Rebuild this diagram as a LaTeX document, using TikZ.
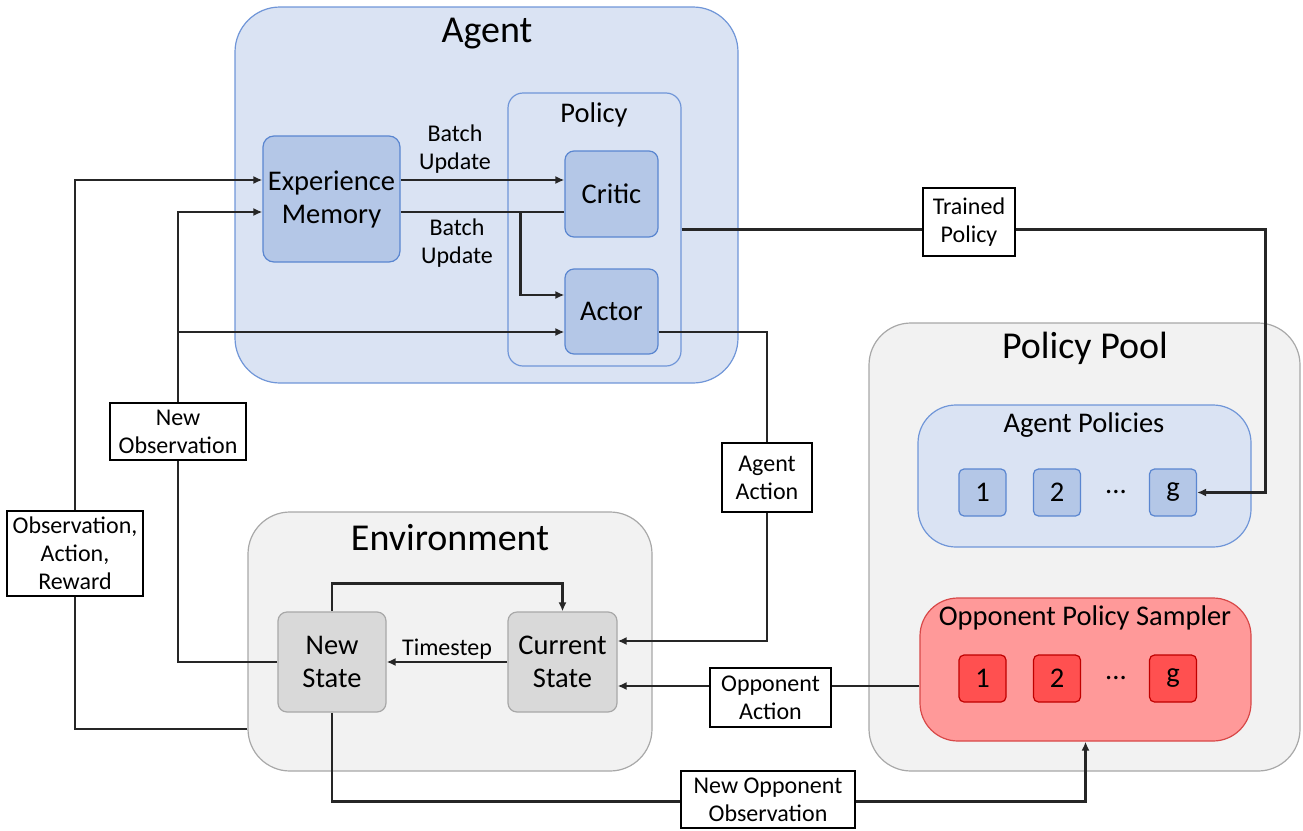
\documentclass[tikz,border=0pt]{standalone}
\usepackage{fontspec}
\setmainfont{Carlito}
\usetikzlibrary{arrows.meta,calc}
\definecolor{blueFill}{HTML}{DAE3F3}
\definecolor{blueLine}{HTML}{7096D8}
\definecolor{blueBox}{HTML}{B4C7E7}
\definecolor{blueBoxLine}{HTML}{5A86D0}
\definecolor{greyFill}{HTML}{F2F2F2}
\definecolor{greyLine}{HTML}{A8A8A8}
\definecolor{greyBox}{HTML}{D9D9D9}
\definecolor{redFill}{HTML}{FF9999}
\definecolor{redLine}{HTML}{D84848}
\definecolor{redBox}{HTML}{FF5050}
\definecolor{redBoxLine}{HTML}{C00000}
\pgfdeclarelayer{containers}
\pgfdeclarelayer{wires}
\pgfsetlayers{containers,wires,main}
\newcommand{\titlefont}{\fontsize{38}{40}\selectfont}
\newcommand{\midfont}{\fontsize{28.5}{33}\selectfont}
\newcommand{\smallfont}{\fontsize{24}{28}\selectfont}
\tikzset{
  frame/.style={draw, line width=1.2pt, inner sep=0pt},
  bluegroup/.style={frame, fill=blueFill, draw=blueLine},
  greygroup/.style={frame, fill=greyFill, draw=greyLine},
  bluebox/.style={frame, fill=blueBox, draw=blueBoxLine, rounded corners=11pt, align=center, font=\midfont},
  greybox/.style={frame, fill=greyBox, draw=greyLine, rounded corners=11pt, align=center, font=\midfont},
  poolblue/.style={frame, fill=blueBox, draw=blueBoxLine, rounded corners=5pt, minimum width=47pt, minimum height=47pt, font=\midfont},
  poolred/.style={frame, fill=redBox, draw=redBoxLine, rounded corners=5pt, minimum width=47pt, minimum height=47pt, font=\midfont},
  tag/.style={draw, fill=white, line width=1.3pt, align=center, font=\smallfont, inner sep=0pt},
  grouptitle/.style={font=\titlefont, inner sep=0pt},
  subtitle/.style={font=\midfont, inner sep=0pt},
  wire/.style={line width=2.4pt, draw=black!85},
  arr/.style={wire, -{Latex[length=9pt,width=8pt]}},
}
\begin{document}
\begin{tikzpicture}[x=1pt,y=-1pt]
\useasboundingbox (0,0) rectangle (1303,830);

% ---------- group containers ----------
\begin{pgfonlayer}{containers}
\node[bluegroup, rounded corners=45pt, minimum width=503pt, minimum height=376pt] (agent) at (486.5,195) {};
\node[bluegroup, rounded corners=15pt, minimum width=173pt, minimum height=273pt] (policy) at (594.5,229.5) {};
\node[greygroup, rounded corners=42pt, minimum width=404pt, minimum height=259pt] (env) at (450,641.5) {};
\node[greygroup, rounded corners=42pt, minimum width=431pt, minimum height=448pt] (pool) at (1084.5,547) {};
\node[bluegroup, rounded corners=38pt, minimum width=333pt, minimum height=142pt] (agentpol) at (1084.5,476) {};
\node[frame, fill=redFill, draw=redLine, rounded corners=38pt, minimum width=331pt, minimum height=143pt] (sampler) at (1085.5,669.5) {};
\end{pgfonlayer}

% ---------- titles ----------
\node[grouptitle] (agentT) at (487,34) {Agent};
\node[subtitle] (policyT) at (594,115) {Policy};
\node[grouptitle] (envT) at (450,538) {Environment};
\node[grouptitle] (poolT) at (1085,348) {Policy Pool};
\node[subtitle] (agentpolT) at (1084,425) {Agent Policies};
\node[subtitle] (samplerT) at (1085,618) {Opponent Policy Sampler};

% ---------- inner blocks ----------
\node[bluebox, minimum width=137pt, minimum height=126pt] (mem) at (331.5,199) {Experience\\Memory};
\node[bluebox, rounded corners=9pt, minimum width=93pt, minimum height=86pt] (critic) at (611.5,194) {Critic};
\node[bluebox, rounded corners=9pt, minimum width=93pt, minimum height=85pt] (actor) at (611.5,311.5) {Actor};
\node[greybox, rounded corners=9pt, minimum width=108pt, minimum height=100pt] (newstate) at (332,662) {New\\State};
\node[greybox, rounded corners=9pt, minimum width=109pt, minimum height=100pt] (curstate) at (562.5,662) {Current\\State};

\node[poolblue] (ap1) at (982.5,492.5) {1};
\node[poolblue] (ap2) at (1057,492.5) {2};
\node[font=\midfont] (apdots) at (1116,492) {...};
\node[poolblue] (apg) at (1173,492.5) {g};

\node[poolred] (op1) at (982.5,678.5) {1};
\node[poolred] (op2) at (1057,678.5) {2};
\node[font=\midfont] (opdots) at (1116,678) {...};
\node[poolred] (opg) at (1173,678.5) {g};

% ---------- connector labels ----------
\node[font=\smallfont, align=center, inner sep=0pt] (bu1) at (455,149) {Batch\\Update};
\node[font=\smallfont, align=center, inner sep=0pt] (bu2) at (457,243) {Batch\\Update};
\node[tag, minimum width=92pt, minimum height=68pt] (trained) at (969,222) {Trained\\Policy};
\node[tag, minimum width=136pt, minimum height=57pt] (newobs) at (178,431.5) {New\\Observation};
\node[tag, minimum width=136pt, minimum height=85pt] (oar) at (75,553.5) {Observation,\\Action,\\Reward};
\node[tag, minimum width=90pt, minimum height=69pt] (agentact) at (767,477.5) {Agent\\Action};
\node[tag, minimum width=121pt, minimum height=59pt] (oppact) at (770.5,697.5) {Opponent\\Action};
\node[tag, minimum width=174pt, minimum height=57pt] (newoppobs) at (768,799.5) {New Opponent\\Observation};

% ---------- connectors ----------
\begin{pgfonlayer}{wires}
% ports on the block sides
\coordinate (memOutA) at ([yshift=19pt]mem.east);
\coordinate (memOutB) at ([yshift=-13pt]mem.east);
\coordinate (memInA) at ([yshift=19pt]mem.west);
\coordinate (memInB) at ([yshift=-13pt]mem.west);
\coordinate (actorInA) at ([yshift=16.5pt]actor.west);
\coordinate (actorInB) at ([yshift=-20.5pt]actor.west);
\coordinate (actorOut) at ([yshift=-20.5pt]actor.east);
\coordinate (envOut) at ([yshift=-87.5pt]env.west);
\coordinate (curInA) at ([yshift=21pt]curstate.east);
\coordinate (curInB) at ([yshift=-24pt]curstate.east);
\coordinate (samplerOut) at ([yshift=-16.5pt]sampler.west);
\coordinate (branch) at ($(memOutB)+(120,0)$);

% experience memory to critic and actor
\draw[arr] (memOutA) -- (memOutA -| critic.west);
\draw[wire] (memOutB) -- (memOutB -| critic.west);
\draw[arr] (branch) |- (actorInA);

% environment feedback into the agent
\draw[wire] (envOut) -| (oar.south);
\draw[arr] (oar.north) |- (memInA);
\draw[wire] (newstate.west) -| (newobs.south);
\draw[arr] (newobs.north) |- (memInB);
\draw[arr] (newobs.north |- actorInB) -- (actorInB);

% environment dynamics
\draw[arr] (curstate.west) -- (newstate.east) node[midway, above=1pt, font=\smallfont, inner sep=0pt] (tsLabel) {Timestep};
\draw[arr] (newstate.north) -- ++(0,-28) -| (curstate.north);

% actions into the environment
\draw[wire] (actorOut) -| (agentact.north);
\draw[arr] (agentact.south) |- (curInA);
\draw[arr] (samplerOut) -- (samplerOut -| curstate.east);

% trained policy into the pool
\draw[arr] (policy.east) -- ++(584,0) |- (apg.east);

% new observation to the opponent sampler
\draw[arr] (newstate.south) -- ++(0,89) -| (sampler.south);
\end{pgfonlayer}
\end{tikzpicture}
\end{document}
